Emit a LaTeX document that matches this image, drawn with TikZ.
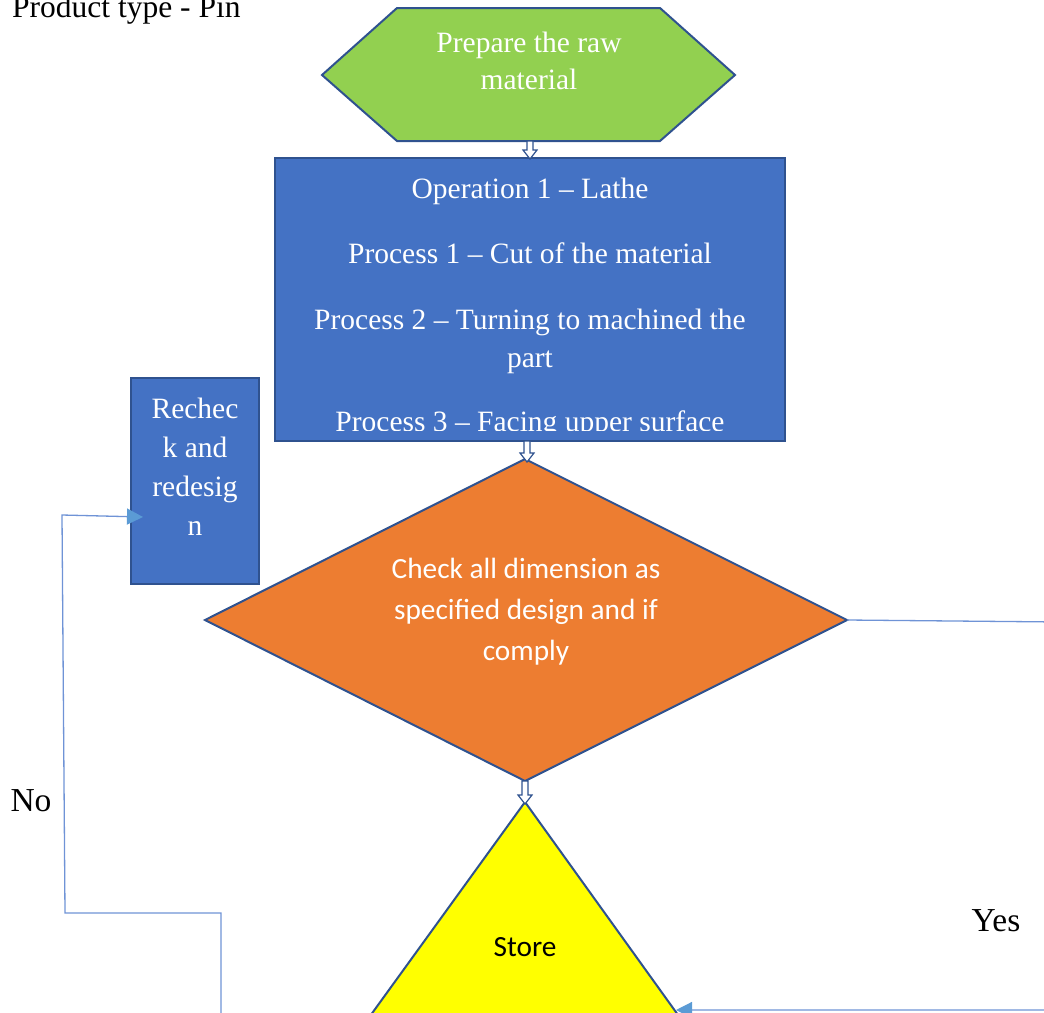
\documentclass[tikz,border=0pt]{standalone}
\usepackage{fontspec}
\setmainfont{Liberation Serif}
\newfontfamily\calibri{Carlito}
\usetikzlibrary{calc,arrows.meta}

\definecolor{edge}{HTML}{2F528F}
\definecolor{boxblue}{HTML}{4472C4}
\definecolor{hexgreen}{HTML}{92D050}
\definecolor{decorange}{HTML}{ED7D31}
\definecolor{storeyellow}{HTML}{FFFF00}
\definecolor{linkblue}{HTML}{6F93D6}
\definecolor{tipblue}{HTML}{5B9BD5}

\tikzset{
  shapeline/.style={draw=edge, line width=2pt, line join=miter},
  whitetext/.style={text=white, font=\fontsize{29.5}{35}\selectfont, inner sep=0pt, anchor=base},
  sanstext/.style={font=\calibri\fontsize{29.3}{35}\selectfont, inner sep=0pt, anchor=base},
  plaintext/.style={text=black, font=\fontsize{33.5}{40}\selectfont, inner sep=0pt, anchor=base},
  blockarrow/.style={draw=edge, fill=white, line width=1.2pt, line join=miter},
  link/.style={draw=linkblue, line width=1.3pt},
  linktip/.style={-{Triangle[length=16pt,width=16pt,color=tipblue]}}
}

% hollow block arrow pointing down between two named points of equal x
\newcommand\flowarrow[2]{%
  \filldraw[blockarrow] ($(#1)+(-3,0)$) -- ($(#1)+(3,0)$) -- ($(#2)+(3,-9)$)
    -- ($(#2)+(7,-9)$) -- (#2) -- ($(#2)+(-7,-9)$) -- ($(#2)+(-3,-9)$) -- cycle;}

\begin{document}
\begin{tikzpicture}[x=1pt, y=-1pt]
\useasboundingbox (0,0) rectangle (1044,1012);
\clip (0,0) rectangle (1044,1012);

% title
\node[text=black, font=\fontsize{31.5}{38}\selectfont, inner sep=0pt, anchor=base west]
  (title) at (12,17) {Product type - Pin};

% hexagon: prepare the raw material
\filldraw[shapeline, fill=hexgreen] (322,75) -- (397,8) -- (660,8) -- (735,75)
  -- (660,141) -- (397,141) -- cycle;
\coordinate (hexS) at (530,141);
\node[whitetext] (prep1) at (529,52.5) {Prepare the raw};
\node[whitetext] (prep2) at (529,89.5) {material};

% operation box
\filldraw[shapeline, fill=boxblue] (275,158) rectangle (785,441);
\coordinate (opN) at (530,159);
\coordinate (opS) at (527,441);
\begin{scope}
  \clip (276,159) rectangle (784,430);
  \node[whitetext] (op0) at (530,198.5) {Operation 1 – Lathe};
  \node[whitetext] (op1) at (530,263.5) {Process 1 – Cut of the material};
  \node[whitetext] (op2) at (530,329.5) {Process 2 – Turning to machined the};
  \node[whitetext] (op3) at (530,367.5) {part};
  \node[whitetext] (op4) at (530,431) {Process 3 – Facing upper surface};
\end{scope}

% recheck box
\filldraw[shapeline, fill=boxblue] (131,378) rectangle (259,584);
\coordinate (recW) at (143,517);
\node[whitetext] (rc1) at (195,418.5) {Rechec};
\node[whitetext] (rc2) at (195,457.5) {k and};
\node[whitetext] (rc3) at (195,496.5) {redesig};
\node[whitetext] (rc4) at (195,535.5) {n};

% decision diamond
\filldraw[shapeline, fill=decorange] (205,620) -- (525,459) -- (847,620)
  -- (525,781) -- cycle;
\coordinate (decN) at (527,462);
\coordinate (decE) at (847,620);
\coordinate (decS) at (525,781);
\node[sanstext, text=white] (dc1) at (526,578.5) {Check all dimension as};
\node[sanstext, text=white] (dc2) at (526,619.5) {specified design and if};
\node[sanstext, text=white] (dc3) at (526,660.5) {comply};

% store triangle, its base lies below the lower edge
\filldraw[shapeline, fill=storeyellow] (525,802) -- (352.7,1040) -- (696,1040) -- cycle;
\coordinate (stN) at (525,804);
\coordinate (stE) at (676,1010);
\node[sanstext, text=black] (store) at (525,956) {Store};

% flow arrows
\flowarrow{hexS}{opN}
\flowarrow{opS}{decN}
\flowarrow{decS}{stN}

% "No" branch back to the recheck box
\coordinate (noA) at (221,1020);
\coordinate (noB) at (221,913);
\coordinate (noC) at (65,913);
\coordinate (noD) at (62,515);
\draw[link, linktip] (noA) -- (noB) -- (noC) -- (noD) -- (recW);

% "Yes" branch to the store
\coordinate (yesA) at (1060,622);
\coordinate (yesB) at (1060,1010);
\draw[link, linktip] (decE) -- (yesA) -- (yesB) -- (stE);

% branch labels
\node[plaintext] (nolbl) at (31,811) {No};
\node[plaintext] (yeslbl) at (996,931) {Yes};
\end{tikzpicture}
\end{document}
